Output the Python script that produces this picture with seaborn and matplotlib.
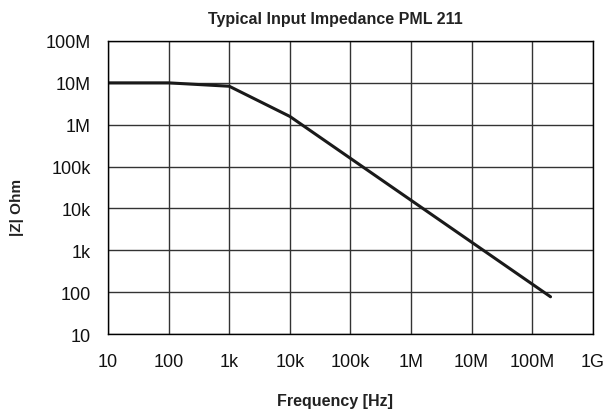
import numpy as np
import pandas as pd
import seaborn as sns
import matplotlib
matplotlib.use("Agg")
import matplotlib.pyplot as plt

# values
freq_hz = [10, 100, 1e3, 1e4, 2e8]
impedance_ohm = [1.0e7, 1.0e7, 8.3e6, 1.58e6, 78]

x_ticks = [10, 1e2, 1e3, 1e4, 1e5, 1e6, 1e7, 1e8, 1e9]
x_labels = ["10", "100", "1k", "10k", "100k", "1M", "10M", "100M", "1G"]
y_ticks = [10, 1e2, 1e3, 1e4, 1e5, 1e6, 1e7, 1e8]
y_labels = ["10", "100", "1k", "10k", "100k", "1M", "10M", "100M"]

sns.set_style("white")
plt.rcParams["font.family"] = ["Liberation Sans", "DejaVu Sans"]

df = pd.DataFrame({"f": freq_hz, "z": impedance_ohm})

fig = plt.figure(figsize=(6.05, 4.14), dpi=100)
ax = fig.add_axes([0.1785, 0.1905, 0.8015, 0.7081])

sns.lineplot(data=df, x="f", y="z", ax=ax, color="#1a1a1a", linewidth=2.2)

ax.set_xscale("log")
ax.set_yscale("log")
ax.set_xlim(10, 1e9)
ax.set_ylim(10, 1e8)
ax.set_xticks(x_ticks)
ax.set_xticklabels(x_labels)
ax.set_yticks(y_ticks)
ax.set_yticklabels(y_labels)
ax.minorticks_off()
ax.set_xlabel("")
ax.set_ylabel("")

ax.grid(True, which="major", color="#333333", linewidth=1)
for s in ax.spines.values():
    s.set_color("black")
    s.set_linewidth(1)

ax.tick_params(axis="both", direction="out", width=1, color="black",
               labelsize=13, labelcolor="#111111")
ax.tick_params(axis="x", length=4.3, pad=9)
ax.tick_params(axis="y", length=4.0, pad=8.5)

txt = dict(fontweight="bold", color="#222222")
fig.text(0.5545, 1 - 24 / 414, "Typical Input Impedance PML 211", fontsize=11.5,
         ha="center", va="baseline", **txt)
fig.text(0.5545, 1 - 406.5 / 414, "Frequency [Hz]", fontsize=11.5,
         ha="center", va="baseline", **txt)
fig.text(16.7 / 605, 0.5, "|Z| Ohm", fontsize=11, rotation=90,
         ha="center", va="center", **txt)

plt.savefig("out.png", dpi=100)
